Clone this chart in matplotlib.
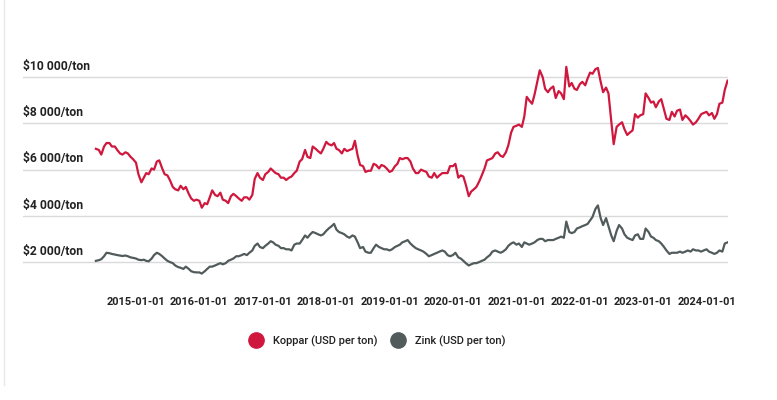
import matplotlib
matplotlib.use('Agg')
import matplotlib.pyplot as plt
import matplotlib.dates as mdates
from matplotlib import font_manager as fm
from matplotlib.lines import Line2D
import pandas as pd
import datetime as dt

# ---------------- data (semi-monthly readings, USD per ton) ----------------
start_date = '2014-05-15'
end_date = '2024-05-01'

copper = [
    # 2014 (May 15 - Dec 15)
    6900, 6850, 6650, 7000, 7150, 7150, 7000, 7000, 6850, 6700, 6650, 6750, 6700, 6550, 6450,
    # 2015
    6300, 5800, 5450, 5650, 5850, 5800, 6050, 6000, 6350, 6400, 6050, 5800,
    5750, 5550, 5250, 5150, 5100, 5300, 5150, 5250, 4950, 4750, 4650, 4700,
    # 2016
    4650, 4350, 4550, 4500, 4800, 5100, 4900, 4850, 5000, 4700, 4650, 4550,
    4850, 4950, 4850, 4750, 4650, 4800, 4800, 4700, 4900, 5600, 5850, 5650,
    # 2017
    5550, 5800, 5900, 6050, 5950, 5850, 5800, 5650, 5650, 5550, 5650, 5700,
    5850, 5950, 6350, 6450, 6850, 6550, 6500, 7000, 6900, 6800, 6700, 6900,
    # 2018
    7200, 7100, 7050, 7150, 6900, 6850, 6700, 6900, 6800, 6850, 6900, 7250,
    6600, 6200, 6150, 5900, 5950, 5950, 6250, 6200, 6050, 6200, 6150, 6050,
    # 2019
    5900, 5950, 6150, 6250, 6500, 6450, 6500, 6500, 6350, 6050, 5850, 5850,
    6000, 5950, 5900, 5700, 5650, 5850, 5650, 5750, 5850, 5850, 5850, 6150,
    # 2020
    6150, 6250, 5650, 5750, 5700, 5350, 4850, 5050, 5150, 5250, 5500, 5750,
    6050, 6400, 6450, 6500, 6700, 6750, 6600, 6550, 6750, 7050, 7600, 7850,
    # 2021
    7900, 7950, 7850, 8300, 9150, 9000, 8850, 9250, 9800, 10300, 10000, 9500,
    9350, 9500, 9600, 9100, 9400, 9300, 9050, 10450, 9600, 9750, 9500, 9450,
    # 2022
    9700, 9800, 9650, 9950, 10200, 10150, 10350, 10400, 9800, 9350, 9550, 9300,
    8100, 7100, 7850, 7950, 8050, 7750, 7500, 7600, 7700, 8400, 8250, 8350,
    # 2023
    8400, 9300, 9100, 8900, 8950, 8700, 8950, 9050, 8600, 8200, 8150, 8500,
    8300, 8550, 8600, 8150, 8350, 8250, 8100, 7950, 8050, 8200, 8400, 8450,
    # 2024 (Jan 1 - May 1)
    8500, 8350, 8450, 8200, 8400, 8850, 8900, 9450, 9850,
]

zinc = [
    # 2014
    2050, 2080, 2120, 2250, 2400, 2380, 2350, 2320, 2300, 2280, 2260, 2280, 2250, 2200, 2180,
    # 2015
    2150, 2100, 2080, 2100, 2050, 2030, 2150, 2300, 2400, 2350, 2250, 2150,
    2050, 2000, 1950, 1850, 1780, 1750, 1700, 1800, 1700, 1600, 1560, 1550,
    # 2016
    1550, 1500, 1600, 1700, 1800, 1800, 1850, 1900, 1950, 1900, 1950, 2050,
    2100, 2150, 2250, 2250, 2300, 2350, 2300, 2400, 2500, 2700, 2800, 2650,
    # 2017
    2600, 2700, 2800, 2900, 2850, 2750, 2700, 2600, 2600, 2550, 2550, 2500,
    2750, 2800, 2800, 2950, 3150, 3050, 3200, 3300, 3250, 3200, 3150, 3200,
    # 2018
    3350, 3450, 3550, 3650, 3400, 3300, 3250, 3200, 3100, 3050, 3150, 3100,
    2850, 2600, 2650, 2450, 2400, 2400, 2600, 2750, 2650, 2600, 2550, 2550,
    # 2019
    2500, 2550, 2650, 2700, 2750, 2850, 2900, 2950, 2800, 2700, 2600, 2550,
    2500, 2450, 2350, 2250, 2300, 2350, 2400, 2450, 2500, 2450, 2300, 2250,
    # 2020
    2300, 2400, 2200, 2150, 2050, 1950, 1850, 1900, 1950, 1950, 2000, 2050,
    2100, 2200, 2300, 2450, 2500, 2450, 2400, 2450, 2550, 2700, 2800, 2850,
    # 2021
    2750, 2800, 2650, 2850, 2800, 2750, 2800, 2850, 2950, 3000, 3000, 2900,
    2950, 2950, 2950, 3000, 3050, 3100, 3050, 3750, 3300, 3250, 3300, 3450,
    # 2022
    3500, 3550, 3600, 3650, 3800, 3950, 4300, 4450, 3900, 3600, 3900, 3550,
    3150, 2900, 3350, 3600, 3450, 3200, 3050, 3000, 2950, 3150, 3200, 3000,
    # 2023
    3000, 3450, 3300, 3100, 3050, 2950, 2900, 2800, 2650, 2500, 2350, 2400,
    2400, 2400, 2450, 2400, 2450, 2500, 2450, 2550, 2500, 2500, 2450, 2500,
    # 2024
    2550, 2450, 2400, 2350, 2400, 2500, 2450, 2800, 2850,
]

series_labels = ['Koppar (USD per ton)', 'Zink (USD per ton)']
y_ticks = [2000, 4000, 6000, 8000, 10000]
y_labels = ['$2 000/ton', '$4 000/ton', '$6 000/ton', '$8 000/ton', '$10 000/ton']
x_tick_years = list(range(2015, 2025))
x_labels = [f'{y}-01-01' for y in x_tick_years]

dates = pd.date_range(start_date, end_date, freq='SMS')
n = min(len(dates), len(copper), len(zinc))
dates = dates[:n]
copper = copper[:n]
zinc = zinc[:n]

# ---------------- fonts ----------------
fp_bold = fm.FontProperties(family=['Roboto', 'DejaVu Sans'], weight='bold')
fp_reg = fm.FontProperties(family=['Roboto', 'DejaVu Sans'], weight='medium')

# ---------------- figure ----------------
W, H = 777, 400
fig = plt.figure(figsize=(W / 100, H / 100), dpi=100)
fig.patch.set_facecolor('white')
renderer = fig.canvas.get_renderer()

def fit_size(text, fp, target_px, max_size):
    t = fig.text(0, 0, text, fontproperties=fp, fontsize=10)
    w = t.get_window_extent(renderer).width
    t.remove()
    return min(max_size, 10 * target_px / w)

xsize = fit_size('2015-01-01', fp_bold, 59, 10.5)
ysize = fit_size('$10 000/ton', fp_bold, 67, 10.5)
lsize = fit_size('Koppar (USD per ton)', fp_reg, 105, 10.0)

left_px, right_px, top_px, bottom_px = 23, 728, 60, 280
ax = fig.add_axes([left_px / W, 1 - bottom_px / H, (right_px - left_px) / W, (bottom_px - top_px) / H])

# x range: 2015-01-01 at px 136, 63.4 px per year
ref = mdates.date2num(dt.datetime(2015, 1, 1))
ppd = 63.4 / 365.25
ax.set_xlim(ref - (136 - left_px) / ppd, ref + (right_px - 136) / ppd)
ax.set_ylim(1221, 10745)

for s in ax.spines.values():
    s.set_visible(False)

ax.set_yticks(y_ticks)
ax.set_yticklabels([])
ax.tick_params(axis='y', length=0)
ax.yaxis.grid(True, color='#dadada', lw=1.0)
ax.set_axisbelow(True)

c_red = '#d0173d'
c_gray = '#525b5b'
ax.plot(dates, copper, color=c_red, lw=1.6, solid_joinstyle='round')
ax.plot(dates, zinc, color=c_gray, lw=1.6, solid_joinstyle='round')

for v, lab in zip(y_ticks, y_labels):
    ax.annotate(lab, xy=(0, v), xycoords=('axes fraction', 'data'),
                xytext=(0, 3), textcoords='offset points',
                ha='left', va='bottom', fontproperties=fp_bold, fontsize=ysize, color='#222222')

ax.set_xticks([mdates.date2num(dt.datetime(y, 1, 1)) for y in x_tick_years])
ax.set_xticklabels(x_labels, fontproperties=fp_bold, fontsize=xsize, color='#222222')
ax.tick_params(axis='x', length=0, pad=12)

handles = [Line2D([], [], marker='o', ls='', markersize=11, color=c_red),
           Line2D([], [], marker='o', ls='', markersize=11, color=c_gray)]
leg = fig.legend(handles, series_labels, loc='center', bbox_to_anchor=(377 / W, 1 - 341 / H),
                 ncol=2, frameon=False, handletextpad=0.7, columnspacing=1.0,
                 handlelength=1.0, prop=fp_reg)
for t in leg.get_texts():
    t.set_fontsize(lsize)
    t.set_color('#222222')

fig.add_artist(Line2D([4 / W, 4 / W], [1 - 385 / H, 1], transform=fig.transFigure, color='#e8e8e8', lw=1))

fig.savefig('out.png', dpi=100, facecolor='white')
